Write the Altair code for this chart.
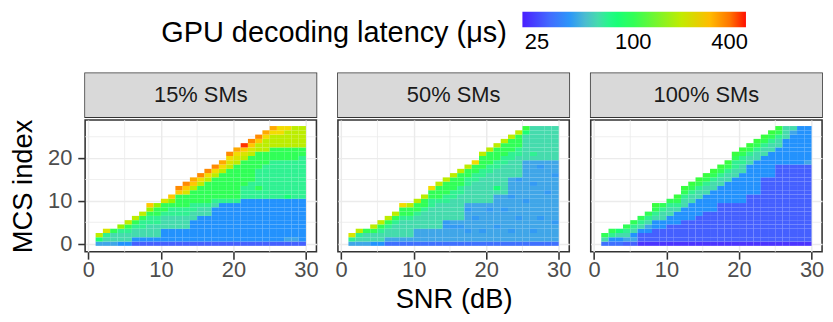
import altair as alt
import pandas as pd

FONT = "Liberation Sans"

PANELS = ["15% SMs", "50% SMs", "100% SMs"]
SNR = [1, 2, 3, 4, 5, 6, 7, 8, 9, 10, 11, 12, 13, 14, 15, 16, 17, 18, 19, 20,
       21, 22, 23, 24, 25, 26, 27, 28, 29]
TOP_MCS = [2, 3, 3, 4, 5, 6, 7, 9, 9, 10, 11, 13, 14, 15, 16, 17, 18, 19, 21, 22,
           23, 24, 25, 26, 27, 27, 27, 27, 27]

# latency (us) for each colour code
LEVEL = {"a": 22, "b": 25, "c": 28, "d": 31, "e": 35, "f": 39, "F": 41, "g": 44,
         "h": 50, "i": 56, "j": 60, "k": 68, "l": 80, "m": 90, "n": 100, "o": 115,
         "p": 130, "q": 150, "r": 170, "s": 195, "t": 220, "u": 250, "v": 285,
         "w": 325, "x": 370, "y": 420, "z": 480}

# one string per SNR column, MCS 0 at the left end up to the highest MCS
P15 = ["gls", "gjkt", "gjjn", "fjjkr", "fjjkns", "cfjjkns", "cfjjkkns",
       "cfjjjkknrv", "cfjjjkknnr", "cfffjjjknnt", "cfffjjjkknrv",
       "cfffjjjkknnnvx", "cfffjjjkknnntvx", "cfffffjjkknnnsvw",
       "cffffffjjknnnnsux", "cffffffjjknnnnnsux", "cffffffffjknnnnnsux",
       "cfffffffffknnnnnnsuw", "cfffffffffknnnnnnnstux",
       "cfffffffffknnnnnnnnstuw", "cffffffffffkkknnnnnnstvz",
       "cffffffffffkkkknnnnnnstvx", "cffffffffffkknkkkknnnnssvx",
       "cffffffffffkkkkkkkknnnsssuw", "cffffffffffkkkkkkkkknnnsssuw",
       "cffffffffffkkkkkkkkknnnsssuu", "cgffffffffflkkkkkkkknnnssssu",
       "cgfffffffffkkkkkkkkknnnsssss", "cffffffffffkkkkkkkkkknnsssss"]

P50 = ["gkt", "gjks", "gjjn", "fjjns", "fjjkns", "dgjjkns", "dgjjjkns",
       "dgjjjjknnu", "dgjjjjknns", "dgggjjjknns", "dgggjjjjknns",
       "dgggjjjjjkknnu", "dgggjjjjjjknnns", "dgggFFjjjjkknnns",
       "dgggFgjjjjjkknnns", "dgggFgjjjjjjkknnns", "dggFggggFgjjjjkknns",
       "dgggggFgggjjjjjkknnu", "dggFggggggjjjjjjkknnns",
       "dgggggggFgjjjjjjjkknnns", "dgggFgggggggjljjjjkknnns",
       "dgggggggFgggjjjjjjjkknnns", "dggFgggggggFggggjjjjkknnns",
       "dgggggFggggggggFjjjjjkknnns", "dgggggggggFgggggggggjjjjjjlo",
       "dggFggggggggggFgggggjkjjjjjj", "dgggggFgggggggggggFgjjjjjjjj",
       "dgggggggggggFgggggggjjjjjjjj", "dggggFggggggggggFgggjjjjjjjj"]

P100 = ["djn", "dfkn", "dfjl", "cgjkn", "cgfjkn", "accfjkn", "accfgjkn",
        "acccffjkno", "acccffjjkn", "accccffjjkn", "accccfffjkno",
        "acccccfffjjkno", "acccccffffjjkno", "accccccffffjjkno",
        "acccccccffffjjkno", "acccccccfffffjjkno", "acccccccccffffjjkno",
        "acccccccccfffffjjkno", "acccccccccffffffjjkkno",
        "acccccccccfffffffjjkkno", "acccccccccccfffffffjjkno",
        "acccccccccccffffffffjjkno", "acccccccccccccccfffffjjkno",
        "acccccccccccccccffffffjjkno", "accccccccccccccccccffffjjkno",
        "accccccccccccccccccffffffjjj", "accccccccccccccccccfffffffgj",
        "accccccccccccccccccfffffffff", "accccccccccccccccccgffffffff"]

X_TICKS = [0, 10, 20, 30]
X_MINOR = [5, 15, 25]
Y_TICKS = [0, 10, 20]
Y_MINOR = [5, 15, 25]
LEGEND_TICKS = [25, 100, 400]
COLOR_DOMAIN = [20.3, 506]
COLOR_STOPS = ["#4A1EFF", "#1E90FF", "#00FF7F", "#3FFF00", "#FFD700", "#FF0000"]

rows = []
for name, cols in zip(PANELS, [P15, P50, P100]):
    for snr, top, col in zip(SNR, TOP_MCS, cols):
        if len(col) != top + 1:
            raise ValueError(f"{name} snr {snr}: {len(col)} cells, expected {top + 1}")
        for mcs, code in enumerate(col):
            rows.append(dict(panel=name, snr=snr, snr_end=snr + 1,
                             mcs_lo=mcs - 0.5, mcs_hi=mcs + 0.5,
                             latency=LEVEL[code]))
df = pd.DataFrame(rows)

W, H, SH = 237, 135, 45

xscale = alt.Scale(domain=[-0.45, 31.45], nice=False, zero=False)
yscale = alt.Scale(domain=[-1.9, 28.9], nice=False, zero=False)
cscale = alt.Scale(type="log", domain=COLOR_DOMAIN, range=COLOR_STOPS,
                   interpolate="lab")

axis_common = dict(domain=False, grid=True, gridColor="#EBEBEB", gridWidth=1.5,
                   labelFontSize=22.4, labelColor="#4D4D4D", labelFont=FONT,
                   tickColor="#333333", tickWidth=1.6, tickSize=7.5,
                   labelFlush=False, labelOverlap=False,
                   titleFontSize=28, titleFont=FONT, titleFontWeight="normal",
                   titleColor="#000000")

legend = alt.Legend(title="GPU decoding latency (μs)", orient="none",
                    legendX=78, legendY=-63, direction="horizontal",
                    type="gradient",
                    titleOrient="left", titleAnchor="middle",
                    titleBaseline="top",
                    gradientLength=229, gradientThickness=16,
                    values=LEGEND_TICKS, format="d", labelFontSize=22.4,
                    labelColor="#000000", labelFont=FONT, titleFont=FONT,
                    titleFontSize=29.6, titleFontWeight="normal",
                    titleColor="#000000", titlePadding=15, titleLimit=600,
                    gradientStrokeWidth=0, labelOffset=4)


def make_panel(i, name):
    d = df[df.panel == name]
    xaxis = alt.Axis(values=X_TICKS, labelPadding=0, titlePadding=5,
                     title="SNR (dB)" if i == 1 else None, **axis_common)
    if i == 0:
        yaxis = alt.Axis(values=Y_TICKS, labelPadding=6, titlePadding=10.5,
                         title="MCS index", **axis_common)
    else:
        yaxis = alt.Axis(values=Y_TICKS, labels=False, ticks=False,
                         title=None, **axis_common)
    minor_x = alt.Chart(pd.DataFrame({"snr": X_MINOR})).mark_rule(
        color="#EBEBEB", strokeWidth=0.8).encode(
        x=alt.X("snr:Q", scale=xscale, axis=xaxis))
    minor_y = alt.Chart(pd.DataFrame({"mcs_lo": Y_MINOR})).mark_rule(
        color="#EBEBEB", strokeWidth=0.8).encode(
        y=alt.Y("mcs_lo:Q", scale=yscale, axis=yaxis))
    heat = alt.Chart(d).mark_rect().encode(
        x=alt.X("snr:Q", scale=xscale, axis=xaxis),
        x2="snr_end:Q",
        y=alt.Y("mcs_lo:Q", scale=yscale, axis=yaxis),
        y2="mcs_hi:Q",
        color=alt.Color("latency:Q", scale=cscale, legend=legend),
    )
    plot = alt.layer(minor_x, minor_y, heat).properties(width=W, height=H)

    sdf = pd.DataFrame({"label": [name]})
    rect = alt.Chart(sdf).mark_rect(fill="#D9D9D9").encode(
        x=alt.value(0), x2=alt.value(W), y=alt.value(0), y2=alt.value(SH))
    txt = alt.Chart(sdf).mark_text(font=FONT, fontSize=22.4, color="#1A1A1A",
                                   align="center", baseline="middle").encode(
        text="label:N", x=alt.value(W / 2), y=alt.value(SH / 2))
    strip = alt.layer(rect, txt).properties(width=W, height=SH)
    return alt.vconcat(strip, plot, spacing=0).resolve_scale(color="shared")


chart = alt.hconcat(*[make_panel(i, n) for i, n in enumerate(PANELS)],
                    spacing=15).resolve_scale(color="shared").properties(
    padding={"left": 1, "top": 0, "right": 0, "bottom": 0}
).configure(font=FONT).configure_view(stroke="#333333", strokeWidth=1.6)

chart.save("out.html", embed_options={"renderer": "svg", "actions": False})
